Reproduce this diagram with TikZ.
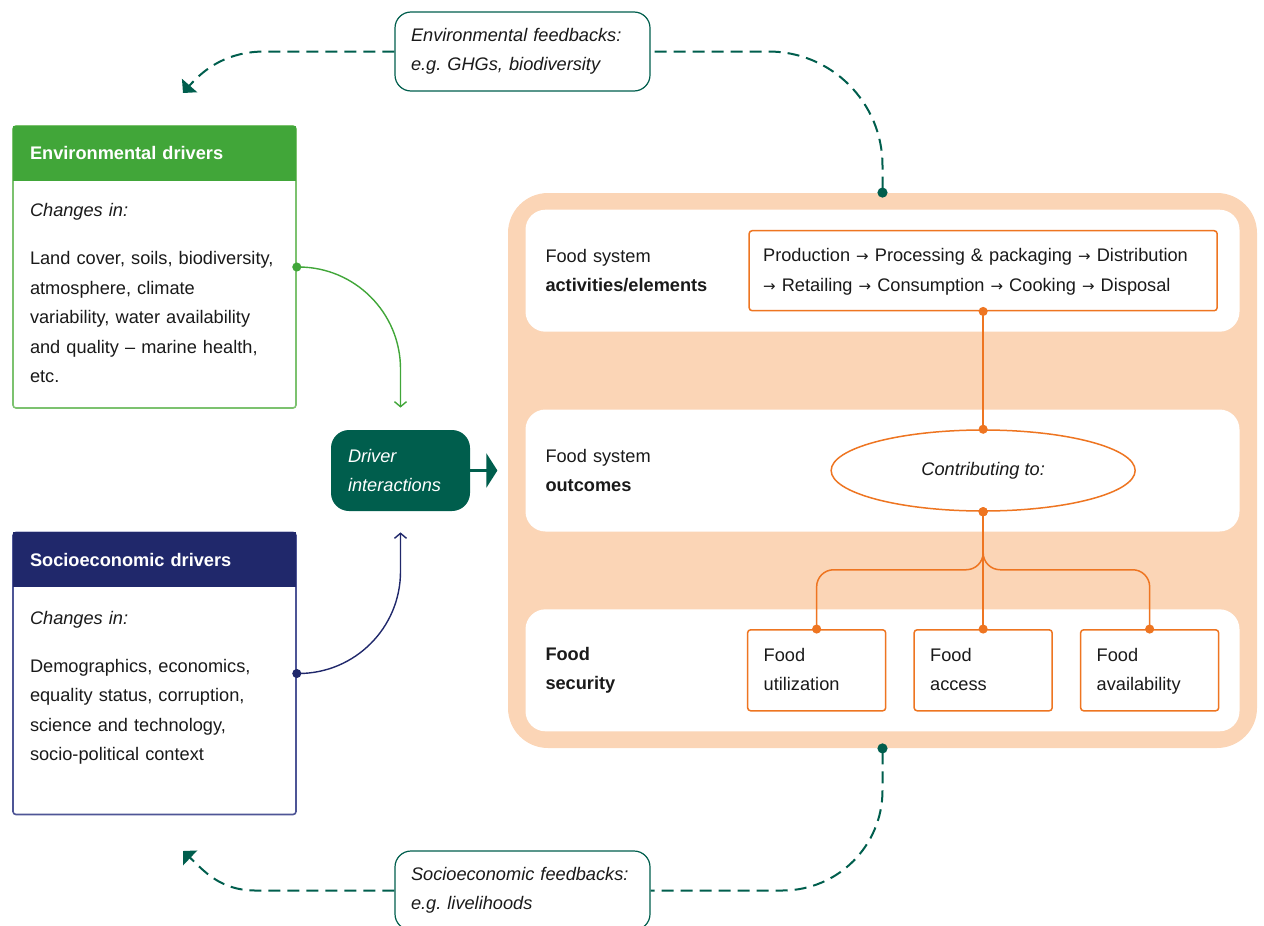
\documentclass[tikz,border=0pt]{standalone}
\usepackage{fontspec}
\setmainfont{Liberation Sans}
\newfontfamily\arrowfont{DejaVu Sans}
\usetikzlibrary{arrows.meta,shapes.geometric,positioning}

\definecolor{envgreen}{HTML}{41A639}
\definecolor{envedge}{HTML}{7CC26F}
\definecolor{socblue}{HTML}{20286B}
\definecolor{socedge}{HTML}{4E5596}
\definecolor{drvgreen}{HTML}{005E4D}
\definecolor{fsorange}{HTML}{EE7521}
\definecolor{peach}{HTML}{FBD5B6}
\definecolor{txt}{HTML}{1A1A1A}

\newcommand{\diagfont}{\fontsize{9.1}{14.75}\selectfont}
\newcommand{\nxt}{{\arrowfont\fontsize{7.5}{14.75}\selectfont →}}

\frenchspacing

\begin{document}
\begin{tikzpicture}[
        x=0.5pt, y=-0.5pt,
        node distance=13.5pt and 13.5pt,
        every node/.style={font=\diagfont, text=txt},
        driverbox/.style={rectangle, draw=#1, line width=0.8pt, fill=white, rounded corners=1.5pt,
            minimum width=141.5pt, minimum height=141pt, inner sep=0},
        headbox/.style={rectangle, fill=#1, text=white, font=\diagfont\bfseries, anchor=north,
            minimum width=141.5pt, minimum height=27.5pt, text width=124.5pt, inner xsep=8.5pt,
            inner ysep=0, align=left},
        bodytext/.style={anchor=north west, inner sep=0, text width=130pt, align=left},
        fbbox/.style={draw=drvgreen, line width=0.6pt, fill=white, rounded corners=8pt, font=\diagfont\itshape,
            minimum width=127.5pt, minimum height=39.5pt, text width=111.5pt, inner xsep=8pt, align=left},
        panel/.style={fill=white, rounded corners=10pt, minimum width=357pt, minimum height=61pt, inner sep=0},
        paneltext/.style={anchor=west, inner sep=0, text width=100pt, align=left},
        orbox/.style={draw=fsorange, line width=0.75pt, fill=white, rounded corners=1.5pt,
            minimum height=40.5pt, align=left},
        foodbox/.style={orbox, minimum width=69pt, text width=53pt, inner xsep=8pt},
        orconn/.style={draw=fsorange, line width=0.75pt, {Circle[length=4.5pt]}-{Circle[length=4.5pt]},
            shorten <=-2.25pt, shorten >=-2.25pt},
        fbconn/.style={draw=drvgreen, line width=1pt, dash pattern=on 6pt off 3.5pt},
        fbdot/.style={{Circle[length=5pt]}-, shorten <=-2.5pt}
    ]

    \useasboundingbox (0,0) rectangle (1264,926);

    % Food system block
    \node[fill=peach, rounded corners=20pt, minimum width=374.5pt, minimum height=277.5pt, inner sep=0]
        (foodsys) at (882.5,470.5) {};
    \node[panel] (outpanel) at (foodsys.center) {};
    \node[panel, above=38.5pt of outpanel] (actpanel) {};
    \node[panel, below=38.5pt of outpanel] (secpanel) {};

    \node[paneltext] (actlabel) at ([xshift=10pt]actpanel.west) {Food system\\\textbf{activities/elements}};
    \node[paneltext] (outlabel) at ([xshift=10pt]outpanel.west) {Food system\\\textbf{outcomes}};
    \node[paneltext] (seclabel) at ([xshift=10pt]secpanel.west) {\textbf{Food}\\\textbf{security}};

    \node[orbox, anchor=east, text width=220pt, inner xsep=7pt, minimum height=40pt] (procbox)
        at ([xshift=-11pt]actpanel.east)
        {\strut Production \nxt{} Processing \& packaging \nxt{} Distribution\\
        \nxt{} Retailing \nxt{} Consumption \nxt{} Cooking \nxt{} Disposal\strut};
    \node[ellipse, draw=fsorange, line width=0.75pt, fill=white, minimum width=152pt, minimum height=40.5pt,
        inner sep=0, font=\diagfont\itshape] (contrib) at (procbox |- outpanel) {Contributing to:};

    \node[foodbox] (access) at (procbox |- secpanel) {\strut Food\\access\strut};
    \node[foodbox, left=13.5pt of access] (util) {\strut Food\\utilization\strut};
    \node[foodbox, right=13.5pt of access] (avail) {\strut Food\\availability\strut};

    % Drivers
    \node[driverbox=envedge] (envbox) at (154.5,267) {};
    \node[headbox=envgreen] (envhead) at (envbox.north) {Environmental drivers};
    \node[bodytext] (envtext) at ([xshift=8.5pt,yshift=-11pt]envhead.south west)
        {\textit{Changes in:}\\[9.25pt]
        Land cover, soils, biodiversity,\\atmosphere, climate\\variability, water availability\\
        and quality – marine health,\\etc.};

    \node[driverbox=socedge] (socbox) at (154.5,673.5) {};
    \node[headbox=socblue] (sochead) at (socbox.north) {Socioeconomic drivers};
    \node[bodytext] (soctext) at ([xshift=8.5pt,yshift=-11.5pt]sochead.south west)
        {\textit{Changes in:}\\[9.25pt]
        Demographics, economics,\\equality status, corruption,\\science and technology,\\socio-political context};

    \node[fill=drvgreen, rounded corners=9pt, minimum width=69.5pt, minimum height=40.5pt, text width=52.5pt,
        inner xsep=8.5pt, align=left, text=white, font=\diagfont\itshape] (drv) at (400.5,470.5) {Driver\\interactions};

    % Feedbacks
    \node[fbbox] (envfb) at (522.5,51.5) {Environmental feedbacks:\\e.g. GHGs, biodiversity};
    \node[fbbox] (socfb) at (522.5,890.5) {Socioeconomic feedbacks:\\e.g. livelihoods};

    \coordinate (envtip) at (183,93);
    \coordinate (soctip) at (183,851);
    \coordinate (drvtip) at ([xshift=13.5pt]drv.east);

    % Edges
    \draw[draw=envgreen, line width=0.7pt, {Circle[length=4.5pt]}-{Straight Barb[length=2.5pt,width=6pt]},
        shorten <=-2.25pt, rounded corners=51pt] (envbox.east) -| ([yshift=11pt]drv.north);
    \draw[draw=socblue, line width=0.7pt, {Circle[length=4.5pt]}-{Straight Barb[length=2.5pt,width=6pt]},
        shorten <=-2.25pt, rounded corners=51pt] (socbox.east) -| ([yshift=-10.5pt]drv.south);
    \draw[draw=drvgreen, line width=1.2pt, -{Triangle[width=17pt,length=5.5pt]}] (drv.east) -- (drvtip);

    \draw[orconn] (procbox.south) -- (contrib.north);
    \draw[orconn] (contrib.south) -- (access.north);
    \draw[orconn, rounded corners=8.5pt] (contrib.south) -- ++(0,58) -| (util.north);
    \draw[orconn, rounded corners=8.5pt] (contrib.south) -- ++(0,58) -| (avail.north);

    \draw[fbconn, fbdot, rounded corners=57pt] (foodsys.north) |- (envfb.east);
    \draw[fbconn, -{Triangle[width=10pt,length=5pt]}] (envfb.west) -- (265,51.5)
        .. controls (228,51.5) and (205,68) .. (envtip);
    \draw[fbconn, fbdot, rounded corners=50pt] (foodsys.south) |- (socfb.east);
    \draw[fbconn, -{Triangle[width=10pt,length=5pt]}] (socfb.west) -- (255,890.5)
        .. controls (220,890.5) and (203,870) .. (soctip);

\end{tikzpicture}
\end{document}
